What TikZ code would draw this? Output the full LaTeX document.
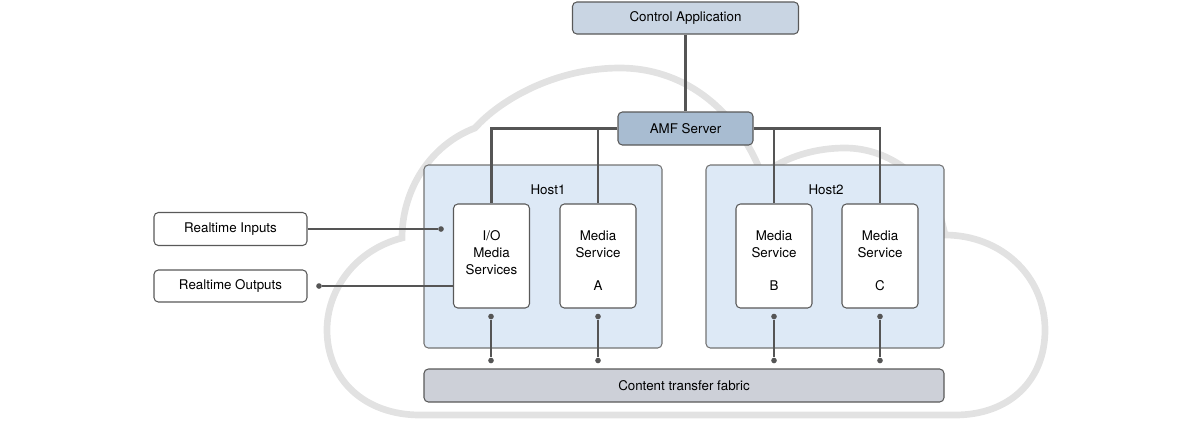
\documentclass[tikz,border=0pt]{standalone}
\usepackage{fontspec}
\setmainfont{TeX Gyre Heros}
\definecolor{ctlc}{HTML}{C9D5E3}
\definecolor{amfc}{HTML}{A8BCD1}
\definecolor{hostc}{HTML}{DDE9F6}
\definecolor{fabc}{HTML}{CDD0D8}
\definecolor{cloudc}{HTML}{E2E2E2}
\definecolor{linec}{HTML}{555555}
\begin{document}
\begin{tikzpicture}[x=0.02cm,y=-0.02cm,
  box/.style={draw=black!65,line width=0.6pt,rounded corners=2.5pt,inner sep=0pt},
  wbox/.style={box,fill=white,minimum width=76*0.02cm,minimum height=104*0.02cm},
  host/.style={box,fill=hostc,draw=black!55,minimum width=238*0.02cm,minimum height=183*0.02cm},
  link/.style={draw=linec,line width=1.2pt},
  dot/.style={circle,fill=linec,inner sep=0pt,minimum size=3.2pt},
  font=\fontsize{7.6pt}{9.5pt}\selectfont]
\useasboundingbox (0,0) rectangle (1200,427);
% cloud
\draw[cloudc,line width=3.8pt]
 (420,415) -- (955,415)
 .. controls (1010,415) and (1045,380) .. (1045,330)
 .. controls (1045,275) and (1000,235) .. (945,235)
 .. controls (935,180) and (890,148) .. (845,148)
 .. controls (810,148) and (780,160) .. (762,175)
 .. controls (735,105) and (680,68) .. (620,68)
 .. controls (555,68) and (500,100) .. (475,128)
 .. controls (430,145) and (402,190) .. (402,238)
 .. controls (355,250) and (327,290) .. (327,330)
 .. controls (327,380) and (365,415) .. (420,415) -- cycle;
% boxes
\node[box,fill=ctlc,minimum width=226*0.02cm,minimum height=32*0.02cm] (ctl) at (685.5,18) {Control Application};
\node[box,fill=amfc,minimum width=135*0.02cm,minimum height=33*0.02cm] (amf) at (685.5,128.5) {AMF Server};
\node[host] (h1) at (543,256.5) {};
\node[host] (h2) at (825,256.5) {};
\node at (548,190) {Host1};
\node at (826,190) {Host2};
\node[wbox] (io) at (491.5,256) {};
\node[wbox] (a) at (598,256) {};
\node[wbox] (b) at (774,256) {};
\node[wbox] (c) at (880,256) {};
\node[align=center] at (491.5,252.5) {I/O\\Media\\Services};
\node[align=center] at (598,244) {Media\\Service};
\node at (598,286) {A};
\node[align=center] at (774,244) {Media\\Service};
\node at (774,286) {B};
\node[align=center] at (880,244) {Media\\Service};
\node at (880,286) {C};
\node[box,fill=fabc,minimum width=520*0.02cm,minimum height=33*0.02cm] (fab) at (684,385.5) {Content transfer fabric};
\node[box,fill=white,minimum width=153*0.02cm,minimum height=33*0.02cm] (in) at (230.5,229) {Realtime Inputs};
\node[box,fill=white,minimum width=153*0.02cm,minimum height=32*0.02cm] (out) at (230.5,286) {Realtime Outputs};
% links
\draw[link] (ctl) -- (amf);
\draw[link] (amf.west) -| (io.north);
\draw[link] (598,128) -- (a.north);
\draw[link] (amf.east) -| (c.north);
\draw[link] (774,128) -- (b.north);
\node[dot] (ind) at (441,229) {};
\draw[link] (in.east) -- (ind);
\node[dot] (outd) at (319,286) {};
\draw[link] (outd) -- (io.west |- outd);
\foreach \n/\x in {p1/491,p2/598,p3/774,p4/880}{
  \node[dot] (\n t) at (\x,316.5) {};
  \node[dot] (\n b) at (\x,360.5) {};
  \draw[link] (\n t) -- (\n b);
}
\end{tikzpicture}
\end{document}
